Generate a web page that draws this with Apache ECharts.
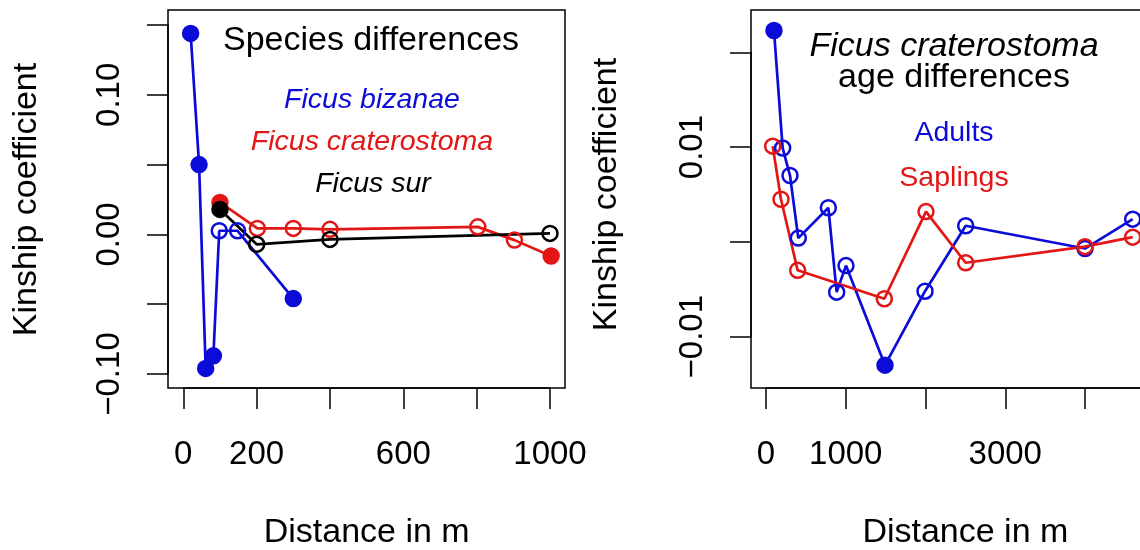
<!DOCTYPE html>
<html lang="en">
<head>
<meta charset="UTF-8">
<title>Kinship coefficient vs distance</title>
<script src="https://cdn.jsdelivr.net/npm/echarts@6/dist/echarts.min.js"></script>
<style>
  * { margin: 0; padding: 0 }
  html, body { width: 100%; height: 100%; background: #fff }
  #main { width: 1140px; height: 550px }
</style>
</head>
<body>
<div id="main"></div>
<script>
// left panel: species differences
var bizDist = [20, 43, 61, 82, 98, 148, 300];
var bizKin = [0.144, 0.050, -0.096, -0.087, 0.0026, 0.0026, -0.046];
var bizFilled = [1, 1, 1, 1, 0, 0, 1];

var craDist = [100, 202, 300, 400, 803, 903, 1003];
var craKin = [0.0229, 0.0043, 0.0043, 0.0036, 0.0054, -0.0041, -0.0155];
var craFilled = [1, 0, 0, 0, 0, 0, 1];

var surDist = [100, 200, 400, 1000];
var surKin = [0.0179, -0.0071, -0.0036, 0.0007];
var surFilled = [1, 0, 0, 0];

// right panel: F. craterostoma adults vs saplings
var adultDist = [100, 209, 301, 405, 782, 886, 1003, 1492, 1994, 2504, 4000, 4598];
var adultKin = [0.0223, 0.0099, 0.0070, 0.0004, 0.0036, -0.0053, -0.0025, -0.0130, -0.0052, 0.0017, -0.0007, 0.0024];
var adultFilled = [1, 0, 0, 0, 0, 0, 0, 1, 0, 0, 0, 0];

var saplDist = [84, 188, 397, 1484, 2006, 2504, 4000, 4598];
var saplKin = [0.0101, 0.0045, -0.0030, -0.0060, 0.0032, -0.0022, -0.0005, 0.0005];
var saplFilled = [0, 0, 0, 0, 0, 0, 0, 0];

var leftShownX = [0, 200, 600, 1000];
var leftShownY = [-0.1, 0, 0.1];
var rightShownX = [0, 1000, 3000];
var rightShownY = [-0.01, 0.01];

var BLUE = '#0c0cd8';
var RED = '#e31616';
var BLACK = '#000';
var FONT = "'Liberation Sans', Arial, sans-serif";

function pts(xs, ys, filled, color) {
    return xs.map(function (x, i) {
        return {
            value: [x, ys[i]],
            itemStyle: {
                color: filled[i] ? color : 'rgba(255,255,255,0)',
                borderColor: color,
                borderWidth: 2.5
            }
        };
    });
}

function lineSeries(name, xi, yi, data, color) {
    return {
        name: name,
        type: 'line',
        xAxisIndex: xi,
        yAxisIndex: yi,
        data: data,
        clip: false,
        symbol: 'circle',
        symbolSize: 15,
        lineStyle: { color: color, width: 2.7 },
        itemStyle: { color: color },
        animation: false
    };
}

function numLabel(v, dec) {
    var s = Math.abs(v).toFixed(dec);
    return (v < -1e-9 ? '\u2212' : '') + s;
}

function shown(list, v) {
    return list.some(function (s) { return Math.abs(s - v) < 1e-9; });
}

var axisLine = { show: true, onZero: false, lineStyle: { color: '#000', width: 1.5 } };
var axisTick = { show: true, inside: false, length: 21, lineStyle: { color: '#000', width: 1.5 } };
var nameStyle = { fontSize: 34, color: '#000', fontFamily: FONT };

var myChart = echarts.init(document.getElementById('main'));
var option = {
    backgroundColor: '#fff',
    textStyle: { fontFamily: FONT },
    grid: [
        // boxes
        { left: 168, top: 10, width: 397, height: 378, show: true, borderColor: '#000', borderWidth: 1.5, backgroundColor: 'transparent', outerBoundsMode: 'none' },
        { left: 751, top: 10, width: 421, height: 378, show: true, borderColor: '#000', borderWidth: 1.5, backgroundColor: 'transparent', outerBoundsMode: 'none' },
        // data areas (tick range)
        { left: 183.3, top: 25, width: 366.7, height: 349, outerBoundsMode: 'none' },
        { left: 766, top: 52.3, width: 398.75, height: 284.4, outerBoundsMode: 'none' }
    ],
    xAxis: [
        { gridIndex: 0, type: 'value', show: false },
        { gridIndex: 1, type: 'value', show: false },
        {
            gridIndex: 2, type: 'value', min: 0, max: 1000, interval: 200, offset: 14,
            axisLine: axisLine, axisTick: axisTick, splitLine: { show: false },
            axisLabel: {
                margin: 50, fontSize: 33, color: '#000', fontFamily: FONT,
                formatter: function (v) { return shown(leftShownX, v) ? String(v) : ''; }
            },
            name: 'Distance in m', nameLocation: 'middle', nameGap: 128, nameMoveOverlap: false,
            nameTextStyle: nameStyle
        },
        {
            gridIndex: 3, type: 'value', min: 0, max: 5000, interval: 1000, offset: 51.3,
            axisLine: axisLine, axisTick: axisTick, splitLine: { show: false },
            axisLabel: {
                margin: 50, fontSize: 33, color: '#000', fontFamily: FONT,
                formatter: function (v) { return shown(rightShownX, v) ? String(v) : ''; }
            },
            name: 'Distance in m', nameLocation: 'middle', nameGap: 128, nameMoveOverlap: false,
            nameTextStyle: nameStyle
        }
    ],
    yAxis: [
        { gridIndex: 0, type: 'value', show: false },
        { gridIndex: 1, type: 'value', show: false },
        {
            gridIndex: 2, type: 'value', min: -0.1, max: 0.15, interval: 0.05, offset: 15.3,
            axisLine: axisLine, axisTick: axisTick, splitLine: { show: false },
            axisLabel: {
                rotate: 90, margin: 42, fontSize: 33, color: '#000', fontFamily: FONT,
                formatter: function (v) { return shown(leftShownY, v) ? numLabel(v, 2) : ''; }
            },
            name: 'Kinship coefficient', nameLocation: 'middle', nameGap: 124, nameRotate: 90, nameMoveOverlap: false,
            nameTextStyle: nameStyle
        },
        {
            gridIndex: 3, type: 'value', min: -0.01, max: 0.02, interval: 0.01, offset: 15,
            axisLine: axisLine, axisTick: axisTick, splitLine: { show: false },
            axisLabel: {
                rotate: 90, margin: 42, fontSize: 33, color: '#000', fontFamily: FONT,
                formatter: function (v) { return shown(rightShownY, v) ? numLabel(v, 2) : ''; }
            },
            name: 'Kinship coefficient', nameLocation: 'middle', nameGap: 127, nameRotate: 90, nameMoveOverlap: false,
            nameTextStyle: nameStyle
        }
    ],
    title: [
        { text: 'Species differences', left: 366, top: 36, textAlign: 'center', textVerticalAlign: 'middle',
          textStyle: { fontSize: 34, fontWeight: 'normal', color: '#000', fontFamily: FONT } },
        { text: 'Ficus bizanae', left: 367, top: 95, textAlign: 'center', textVerticalAlign: 'middle',
          textStyle: { fontSize: 28.5, fontStyle: 'italic', fontWeight: 'normal', color: BLUE, fontFamily: FONT } },
        { text: 'Ficus craterostoma', left: 367, top: 137, textAlign: 'center', textVerticalAlign: 'middle',
          textStyle: { fontSize: 28.5, fontStyle: 'italic', fontWeight: 'normal', color: RED, fontFamily: FONT } },
        { text: 'Ficus sur', left: 368, top: 179, textAlign: 'center', textVerticalAlign: 'middle',
          textStyle: { fontSize: 28.5, fontStyle: 'italic', fontWeight: 'normal', color: BLACK, fontFamily: FONT } },
        { text: 'Ficus craterostoma', left: 949, top: 42, textAlign: 'center', textVerticalAlign: 'middle',
          textStyle: { fontSize: 34, fontStyle: 'italic', fontWeight: 'normal', color: '#000', fontFamily: FONT } },
        { text: 'age differences', left: 949, top: 73, textAlign: 'center', textVerticalAlign: 'middle',
          textStyle: { fontSize: 34, fontWeight: 'normal', color: '#000', fontFamily: FONT } },
        { text: 'Adults', left: 949, top: 128, textAlign: 'center', textVerticalAlign: 'middle',
          textStyle: { fontSize: 28.5, fontWeight: 'normal', color: BLUE, fontFamily: FONT } },
        { text: 'Saplings', left: 949, top: 173, textAlign: 'center', textVerticalAlign: 'middle',
          textStyle: { fontSize: 28.5, fontWeight: 'normal', color: RED, fontFamily: FONT } }
    ],
    series: [
        lineSeries('Ficus bizanae', 2, 2, pts(bizDist, bizKin, bizFilled, BLUE), BLUE),
        lineSeries('Ficus craterostoma', 2, 2, pts(craDist, craKin, craFilled, RED), RED),
        lineSeries('Ficus sur', 2, 2, pts(surDist, surKin, surFilled, BLACK), BLACK),
        lineSeries('Adults', 3, 3, pts(adultDist, adultKin, adultFilled, BLUE), BLUE),
        lineSeries('Saplings', 3, 3, pts(saplDist, saplKin, saplFilled, RED), RED)
    ]
};
myChart.setOption(option);
</script>
</body>
</html>
